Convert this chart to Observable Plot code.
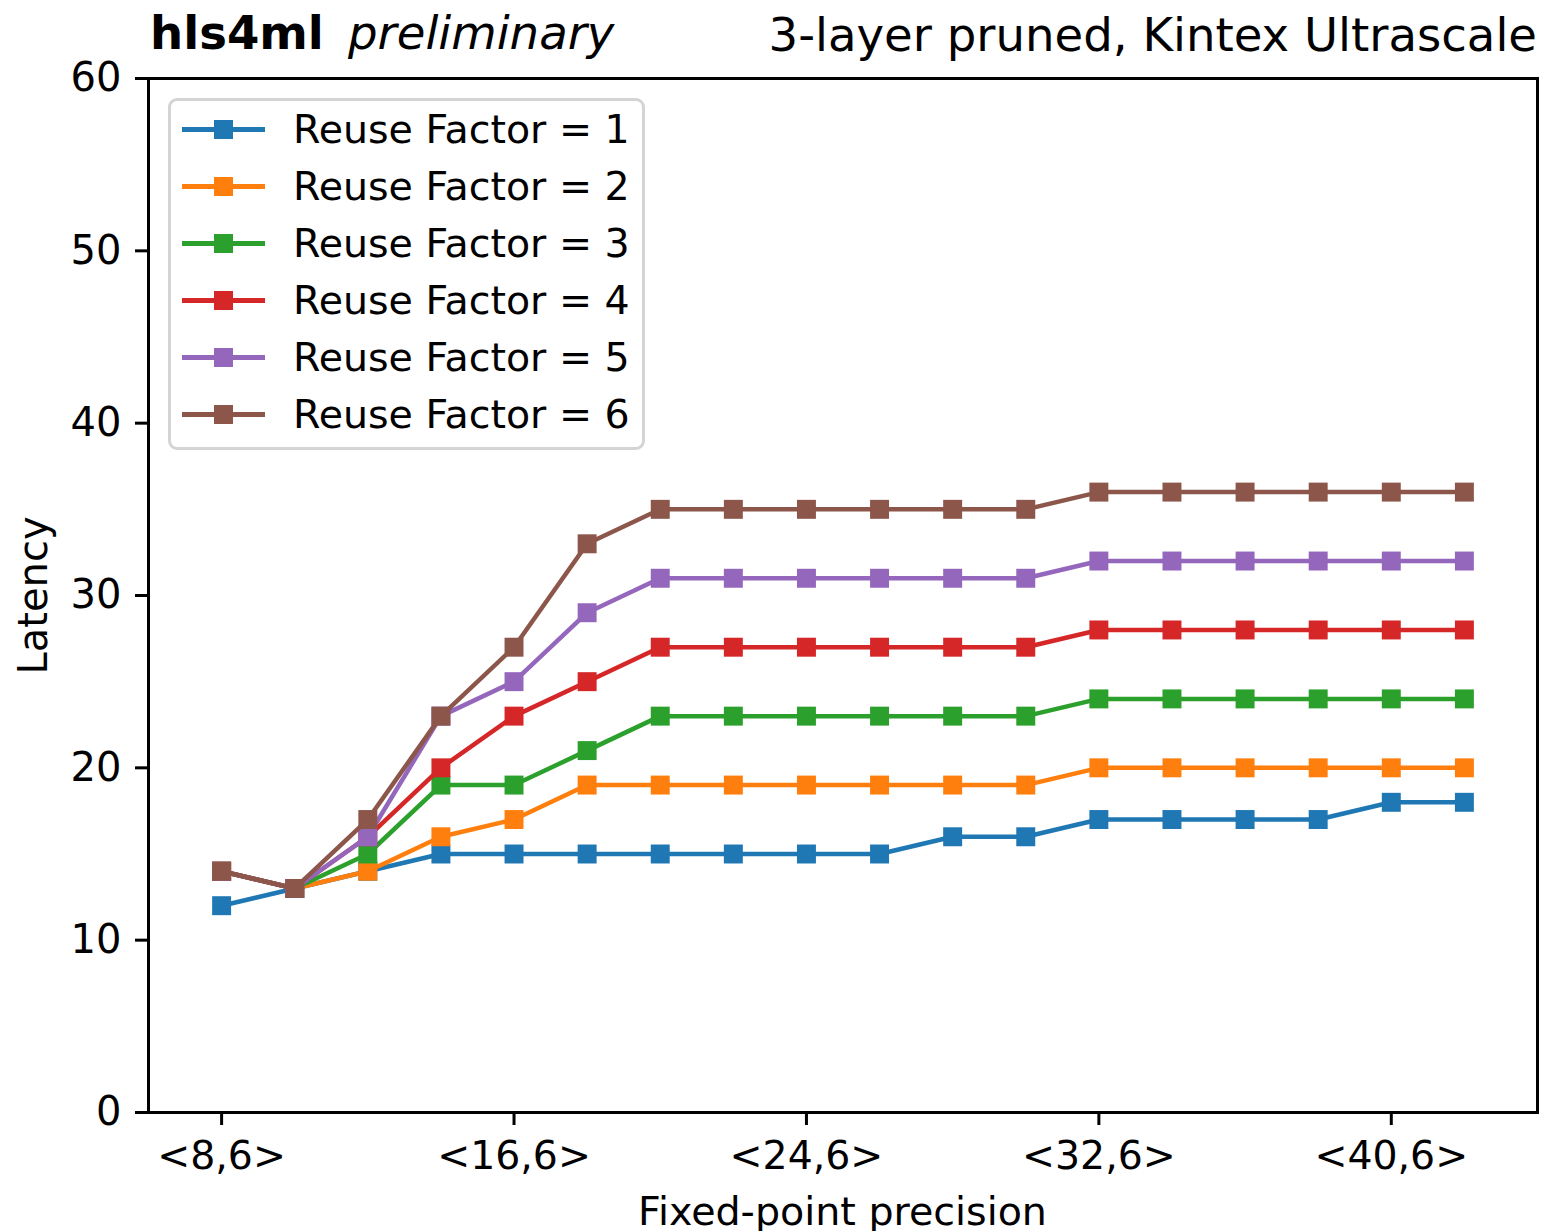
<!DOCTYPE html>
<html>
<head>
<meta charset="utf-8">
<script src="https://cdn.jsdelivr.net/npm/d3@7"></script>
<script src="https://cdn.jsdelivr.net/npm/@observablehq/plot@0.6"></script>
<style>
  html, body { margin: 0; padding: 0; background: #fff; }
  #wrap { position: relative; width: 1545px; height: 1231px; font-family: "DejaVu Sans", sans-serif; color: #000; }
  #header { position: relative; width: 1545px; height: 70px; }
  .t { position: absolute; line-height: 47px; font-size: 46.6px; white-space: nowrap; }
  #legend { position: absolute; left: 168px; top: 98px; width: 471px; height: 346px; border: 3px solid #d4d4d4; border-radius: 9px; background: rgba(255,255,255,0.85); }
  .row { position: absolute; left: 0; height: 40px; width: 100%; }
  .ln { position: absolute; left: 11px; width: 83px; height: 4.5px; top: 18px; }
  .mk { position: absolute; left: 43px; width: 19px; height: 19px; top: 10.5px; }
  .lb { position: absolute; left: 122px; top: 0; font-size: 39.5px; line-height: 40px; white-space: nowrap; }
</style>
</head>
<body>
<div id="wrap">
  <div id="header">
    <span class="t" style="left:150px; top:10px; font-weight:bold;">hls4ml</span>
    <span class="t" style="left:348px; top:10px; font-style:italic;">preliminary</span>
    <span class="t" style="right:8px; top:12px;">3-layer pruned, Kintex Ultrascale</span>
  </div>
  <div id="chart"></div>
  <div id="legend"></div>
</div>
<script>
// Fixed-point total bits (<N,6>)
const precisionBits = [8, 10, 12, 14, 16, 18, 20, 22, 24, 26, 28, 30, 32, 34, 36, 38, 40, 42];
const xTicks = [8, 16, 24, 32, 40];
const yTicks = [0, 10, 20, 30, 40, 50, 60];

const seriesNames = ["Reuse Factor = 1", "Reuse Factor = 2", "Reuse Factor = 3", "Reuse Factor = 4", "Reuse Factor = 5", "Reuse Factor = 6"];
const seriesColors = ["#1f77b4", "#ff7f0e", "#2ca02c", "#d62728", "#9467bd", "#8c564b"];

const latencyRF1 = [12, 13, 14, 15, 15, 15, 15, 15, 15, 15, 16, 16, 17, 17, 17, 17, 18, 18];
const latencyRF2 = [14, 13, 14, 16, 17, 19, 19, 19, 19, 19, 19, 19, 20, 20, 20, 20, 20, 20];
const latencyRF3 = [14, 13, 15, 19, 19, 21, 23, 23, 23, 23, 23, 23, 24, 24, 24, 24, 24, 24];
const latencyRF4 = [14, 13, 16, 20, 23, 25, 27, 27, 27, 27, 27, 27, 28, 28, 28, 28, 28, 28];
const latencyRF5 = [14, 13, 16, 23, 25, 29, 31, 31, 31, 31, 31, 31, 32, 32, 32, 32, 32, 32];
const latencyRF6 = [14, 13, 17, 23, 27, 33, 35, 35, 35, 35, 35, 35, 36, 36, 36, 36, 36, 36];

const allLatency = [latencyRF1, latencyRF2, latencyRF3, latencyRF4, latencyRF5, latencyRF6];

const seriesData = allLatency.map((vals, i) =>
  precisionBits.map((b, j) => ({ bits: b, latency: vals[j], series: seriesNames[i] }))
);

const marks = [];
seriesData.forEach((d, i) => {
  marks.push(Plot.line(d, { x: "bits", y: "latency", stroke: seriesColors[i], strokeWidth: 4.5 }));
  marks.push(Plot.dot(d, { x: "bits", y: "latency", symbol: "square", r: 10.7, fill: seriesColors[i], stroke: "none" }));
});

const chart = Plot.plot({
  width: 1545,
  height: 1161,
  marginTop: 8,
  marginBottom: 119,
  marginLeft: 148,
  marginRight: 8,
  style: { fontFamily: "DejaVu Sans, sans-serif", fontSize: "39.5px", color: "#000", background: "#fff", overflow: "visible" },
  x: { domain: [6, 44] },
  y: { domain: [0, 60] },
  marks: [
    ...marks,
    Plot.frame({ stroke: "#000", strokeWidth: 3 }),
    Plot.axisY({ ticks: yTicks, tickSize: 13, tickPadding: 14, strokeWidth: 3, fontSize: 40, label: "Latency", labelAnchor: "center", labelArrow: "none", labelOffset: 130 }),
    Plot.axisX({ ticks: xTicks, tickFormat: d => `<${d},6>`, tickSize: 13, tickPadding: 16, strokeWidth: 3, fontSize: 39.4, label: null })
  ]
});
document.getElementById("chart").appendChild(chart);

// Axis title below the plot area
const xl = document.createElement("div");
xl.textContent = "Fixed-point precision";
xl.style.cssText = "position:absolute; left:148px; width:1389px; text-align:center; top:1189px; font-size:39.6px; line-height:44px; white-space:nowrap;";
document.getElementById("wrap").appendChild(xl);

// Legend
const leg = document.getElementById("legend");
seriesNames.forEach((name, i) => {
  const row = document.createElement("div");
  row.className = "row";
  row.style.top = (8 + i * 57) + "px";
  row.innerHTML = `<div class="ln" style="background:${seriesColors[i]}"></div><div class="mk" style="background:${seriesColors[i]}"></div><div class="lb">${name}</div>`;
  leg.appendChild(row);
});
</script>
</body>
</html>
